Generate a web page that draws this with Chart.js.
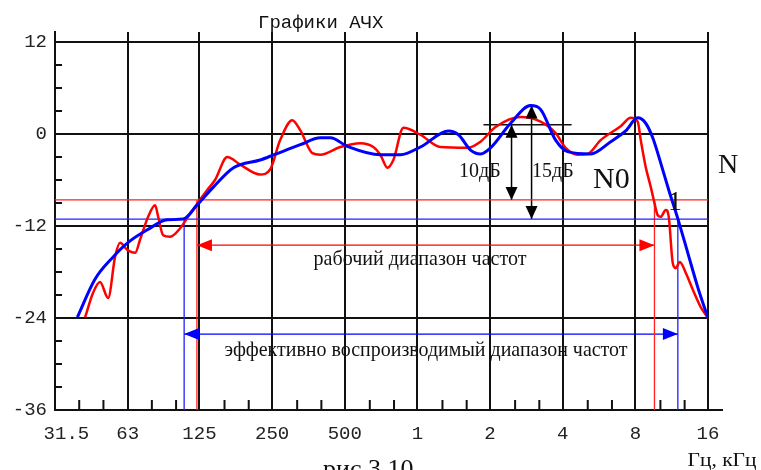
<!DOCTYPE html>
<html>
<head>
<meta charset="utf-8">
<script src="https://cdn.jsdelivr.net/npm/chart.js@4.4.1/dist/chart.umd.min.js"></script>
<style>
  html, body { margin: 0; padding: 0; background: #fff; }
</style>
</head>
<body>
<canvas id="c" width="761" height="470"></canvas>
<script>
// ---- values ----
const xTicks = [31.5, 63, 125, 250, 500, 1000, 2000, 4000, 8000, 16000];
const xLabels = ['31.5', '63', '125', '250', '500', '1', '2', '4', '8', '16'];
const yTicks = [-36, -24, -12, 0, 12];
const yLabels = ['-36', '-24', '-12', '0', '12'];

// smoothed response (blue), Hz / dB
const blueFreq = [39, 46, 55, 63, 76, 92, 107, 122, 143, 173, 223, 255, 327, 396, 436, 512, 702, 851, 1029, 1345,
  1480, 1660, 1825, 2010, 2433, 2944, 3239, 3739, 4193, 5222, 6322, 7295, 8183, 8830, 9444, 10194, 11003, 11986, 13192, 14515, 16000];
const blueDb = [-23.9, -19.0, -16.0, -14.2, -12.5, -11.2, -11.1, -9.3, -6.9, -4.4, -3.4, -2.7, -1.4, -0.5, -0.5, -1.6, -2.7, -2.7, -1.7, 0.4,
  -0.1, -2.1, -2.6, -1.8, 1.4, 3.7, 3.2, -0.8, -2.3, -2.6, -1.0, 0.4, 2.1, 1.4, -0.5, -3.8, -7.3, -11.0, -15.5, -20.0, -24.0];

// measured response (red), Hz / dB
const redFreq = [42, 45.3, 48.4, 52.3, 55.9, 58.6, 62.7, 67.7, 70.9, 76.6, 81.9, 84.3, 88.4, 94.5, 104, 112, 123.5, 134.6, 145, 163,
  184.5, 223, 245.6, 270, 303, 327, 367, 396, 479, 580, 657, 702, 751, 795, 875, 1029, 1246, 1613, 1825, 2107,
  2677, 3239, 3739, 4114, 4612, 5075, 5746, 6955, 7655, 8183, 8423, 8830, 9264, 9535, 9907, 10194, 10691, 11003, 11428, 11762,
  12222, 12937, 13835, 14931, 16000];
const redDb = [-23.9, -20.7, -19.3, -21.4, -16.0, -14.2, -15.1, -15.5, -13.8, -10.8, -9.3, -10.8, -13.2, -13.4, -12.3, -10.8, -8.9, -7.3, -6.0, -3.0,
  -4.0, -5.3, -4.6, -0.8, 1.8, 0.5, -2.5, -2.7, -1.7, -1.2, -1.7, -2.7, -4.4, -3.4, 0.8, -0.1, -1.7, -1.8, -1.0, 0.9,
  2.2, 1.6, 0.1, -1.8, -2.7, -2.6, -0.8, 1.0, 2.1, 1.6, -0.8, -4.3, -6.9, -8.6, -10.6, -10.8, -9.9, -10.8, -16.8, -17.5,
  -16.7, -18.1, -20.3, -22.6, -24.0];

// reference levels and bands
const redLevel = -8.6;
const blueLevel = -11.1;
const workBand = [122, 9600];      // рабочий диапазон (red)
const effBand = [108, 12000];      // эффективно воспроизводимый (blue)
const workArrowDb = -14.5;
const effArrowDb = -26.1;
const flatLevel = 1.2;             // black reference line
const flatSpan = [1878, 4355];
const peakLevel = 3.7;
const dropFreq = [2455, 2972];     // 10 dB / 15 dB arrows

const pts = (xs, ys) => xs.map((x, i) => ({ x, y: ys[i] }));

function seg(x1, y1, x2, y2, color, width) {
    return {
        data: [{ x: x1, y: y1 }, { x: x2, y: y2 }],
        borderColor: color, borderWidth: width,
        pointRadius: 0, tension: 0, order: 2,
    };
}

const arrows = [
    { x1: workBand[0], y1: workArrowDb, x2: workBand[1], y2: workArrowDb, color: '#ff0000' },
    { x1: effBand[0], y1: effArrowDb, x2: effBand[1], y2: effArrowDb, color: '#0000ff' },
    { x1: dropFreq[0], y1: flatLevel, x2: dropFreq[0], y2: redLevel, color: '#000' },
    { x1: dropFreq[1], y1: peakLevel, x2: dropFreq[1], y2: blueLevel, color: '#000' },
];

const datasets = [
    { data: pts(blueFreq, blueDb), borderColor: '#0000ff', borderWidth: 3, pointRadius: 0, cubicInterpolationMode: 'monotone', order: 0 },
    { data: pts(redFreq, redDb), borderColor: '#ff0000', borderWidth: 2.5, pointRadius: 0, cubicInterpolationMode: 'monotone', order: 1 },
    seg(31.5, redLevel, 16000, redLevel, '#ff2020', 1.3),
    seg(31.5, blueLevel, 16000, blueLevel, '#2020ff', 1.3),
    seg(workBand[0], redLevel, workBand[0], -36, '#ff2020', 1.3),
    seg(workBand[1], redLevel, workBand[1], -36, '#ff2020', 1.3),
    seg(effBand[0], blueLevel, effBand[0], -36, '#2020ff', 1.3),
    seg(effBand[1], blueLevel, effBand[1], -36, '#2020ff', 1.3),
    seg(flatSpan[0], flatLevel, flatSpan[1], flatLevel, '#111', 1.5),
];
arrows.forEach(a => datasets.push(seg(a.x1, a.y1, a.x2, a.y2, a.color, a.color === '#000' ? 1.5 : 1.3)));

function head(ctx, tx, ty, dx, dy, len, half) {
    // tip at (tx,ty), pointing along (dx,dy)
    const bx = tx - dx * len, by = ty - dy * len;
    ctx.beginPath();
    ctx.moveTo(tx, ty);
    ctx.lineTo(bx - dy * half, by + dx * half);
    ctx.lineTo(bx + dy * half, by - dx * half);
    ctx.closePath();
    ctx.fill();
}

function fitText(ctx, str, cx, y, w) {
    const m = ctx.measureText(str).width;
    ctx.save();
    ctx.translate(cx, y);
    ctx.scale(w / m, 1);
    ctx.textAlign = 'center';
    ctx.fillText(str, 0, 0);
    ctx.restore();
}

const decor = {
    id: 'decor',
    beforeDatasetsDraw(chart) {
        const { ctx, scales: { x, y }, chartArea: a } = chart;
        ctx.save();
        ctx.strokeStyle = '#111';
        ctx.lineWidth = 2;
        ctx.beginPath();
        // minor ticks, left axis every 3 dB
        for (let v = -33; v < 12; v += 3) {
            if (v % 12 === 0) continue;
            const py = y.getPixelForValue(v);
            ctx.moveTo(a.left, py); ctx.lineTo(a.left + 7, py);
        }
        // minor ticks, bottom axis every 1/3 octave
        for (let k = 1; k < 27; k++) {
            if (k % 3 === 0) continue;
            const px = x.getPixelForValue(31.5 * Math.pow(2, k / 3));
            ctx.moveTo(px, a.bottom); ctx.lineTo(px, a.bottom - 10);
        }
        // axis runs a bit past 16 kHz
        ctx.moveTo(a.right, a.bottom); ctx.lineTo(a.right + 15, a.bottom);
        ctx.stroke();
        ctx.restore();
    },
    afterDatasetsDraw(chart) {
        const { ctx, scales: { x, y } } = chart;
        ctx.save();
        arrows.forEach(ar => {
            const x1 = x.getPixelForValue(ar.x1), y1 = y.getPixelForValue(ar.y1);
            const x2 = x.getPixelForValue(ar.x2), y2 = y.getPixelForValue(ar.y2);
            const d = Math.hypot(x2 - x1, y2 - y1), dx = (x2 - x1) / d, dy = (y2 - y1) / d;
            ctx.fillStyle = ar.color;
            const len = ar.color === '#000' ? 13 : 15, half = 6;
            head(ctx, x2, y2, dx, dy, len, half);
            head(ctx, x1, y1, -dx, -dy, len, half);
        });

        ctx.fillStyle = '#111';
        ctx.textBaseline = 'alphabetic';
        ctx.font = '19px "Liberation Mono", "Courier New", monospace';
        ctx.textAlign = 'left';
        ctx.fillText('Графики АЧХ', 258, 28);

        ctx.font = '20px "Liberation Serif", "Times New Roman", serif';
        ctx.fillText('10дБ', 459, 177);
        ctx.fillText('15дБ', 532, 177);

        ctx.font = '22px "Liberation Serif", "Times New Roman", serif';
        fitText(ctx, 'рабочий диапазон частот', 420, 265, 213);
        fitText(ctx, 'эффективно воспроизводимый диапазон частот', 426, 356, 403);

        ctx.font = '30px "Liberation Serif", "Times New Roman", serif';
        ctx.textAlign = 'left';
        ctx.fillText('N0', 593, 188);
        ctx.font = '28px "Liberation Serif", "Times New Roman", serif';
        ctx.fillText('N', 718, 173);
        ctx.fillText('1', 668, 210);

        ctx.font = '19px "Liberation Serif", "Times New Roman", serif';
        fitText(ctx, 'Гц, кГц', 722, 466, 69);
        ctx.font = '26px "Liberation Serif", "Times New Roman", serif';
        ctx.textAlign = 'left';
        ctx.fillText('рис 3.10', 323, 477);
        ctx.restore();
    }
};

const tickFont = { family: '"Liberation Mono", "Courier New", monospace', size: 19 };

new Chart(document.getElementById('c'), {
    type: 'line',
    data: { datasets },
    options: {
        responsive: false,
        animation: false,
        devicePixelRatio: 1,
        layout: { padding: { top: 32, right: 53, left: 0, bottom: 0 } },
        plugins: { legend: { display: false }, tooltip: { enabled: false } },
        scales: {
            x: {
                type: 'logarithmic',
                min: 31.5,
                max: 16000,
                afterBuildTicks: s => { s.ticks = xTicks.map(v => ({ value: v })); },
                afterFit: s => { s.height = 60; },
                ticks: {
                    autoSkip: false, maxRotation: 0, padding: 13,
                    color: '#222', font: tickFont,
                    // first label sits clear of the corner
                    callback: (v, i) => (i === 0 ? '  ' : '') + xLabels[i],
                },
                grid: { color: '#111', lineWidth: 2, drawTicks: false },
                border: { color: '#111', width: 2 },
            },
            y: {
                type: 'linear',
                min: -36,
                max: 13.3,
                afterBuildTicks: s => { s.ticks = yTicks.map(v => ({ value: v })); },
                afterFit: s => { s.width = 55; },
                ticks: {
                    padding: 8, color: '#222', font: tickFont,
                    callback: (v, i) => yLabels[i],
                },
                grid: { color: '#111', lineWidth: 2, drawTicks: false },
                border: { color: '#111', width: 2 },
            }
        }
    },
    plugins: [decor]
});
</script>
</body>
</html>
